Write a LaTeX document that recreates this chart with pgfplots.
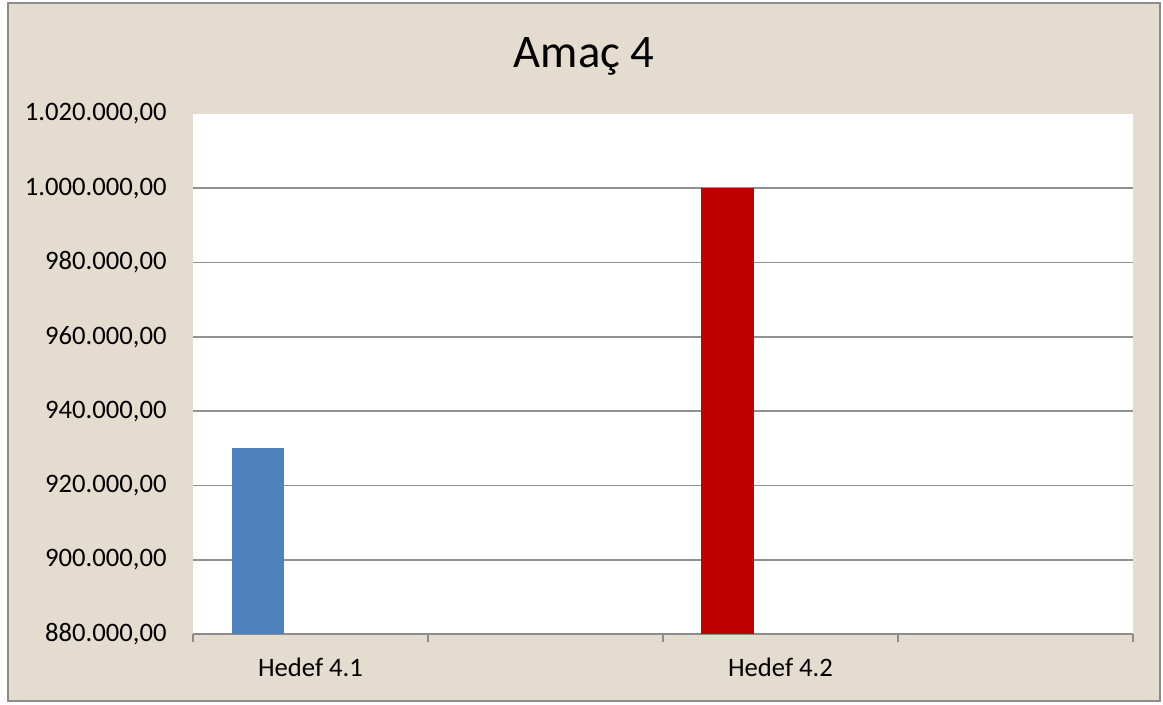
\documentclass[border=0pt]{standalone}
\usepackage{pgfplots}
\pgfplotsset{compat=1.18}
\usepackage{fontspec}
\setmainfont{Carlito}
\definecolor{bgbeige}{RGB}{227,220,207}
\definecolor{framegray}{RGB}{140,140,140}
\definecolor{gridgray}{RGB}{145,145,145}
\definecolor{barblue}{RGB}{79,129,189}
\definecolor{barred}{RGB}{192,0,0}
\begin{document}
\begin{tikzpicture}[x=0.75pt,y=0.75pt]
\fill[white] (0,0) rectangle (1163,704);
\filldraw[fill=bgbeige,draw=framegray,line width=1.5pt] (8,3) rectangle (1160,701);
\fill[white] (193,70) rectangle (1133,590);
\node[font=\fontsize{35}{40}\selectfont,anchor=base] at (584,704-68) {Amaç 4};
\begin{axis}[
  at={(144.75pt,52.5pt)}, anchor=south west,
  scale only axis, width=705pt, height=390pt,
  xmin=0, xmax=4, ymin=880000, ymax=1020000,
  enlargelimits=false,
  axis x line*=bottom, axis y line*=left,
  y axis line style={draw=none},
  x axis line style={draw=framegray, line width=1.1pt},
  xtick={0.5,2.5}, xticklabels={Hedef 4.1, Hedef 4.2},
  major x tick style={draw=none},
  minor xtick={0,1,2,3,4},
  minor x tick style={draw=framegray, line width=1.1pt},
  minor tick length=6pt,
  tick align=outside,
  ytick={880000,900000,...,1020000},
  major y tick style={draw=none},
  extra y ticks={900000,920000,940000,960000,980000,1000000},
  extra y tick labels={},
  extra y tick style={grid=major, major grid style={draw=gridgray, line width=1.2pt}},
  scaled y ticks=false,
  /pgf/number format/assume math mode=true,
  ticklabel style={font=\fontsize{20}{23}\selectfont},
  yticklabel style={xshift=-12pt, /pgf/number format/.cd, fixed, fixed zerofill, precision=2, use comma, 1000 sep={.}},
  xticklabel style={yshift=-10pt},
]
\addplot[ybar, bar width=0.2255, bar shift=0pt, fill=barblue, draw=none] coordinates {(0.2766,930000)};
\addplot[ybar, bar width=0.2255, bar shift=0pt, fill=barred, draw=none] coordinates {(2.2745,1000000)};
\end{axis}
\end{tikzpicture}
\end{document}
